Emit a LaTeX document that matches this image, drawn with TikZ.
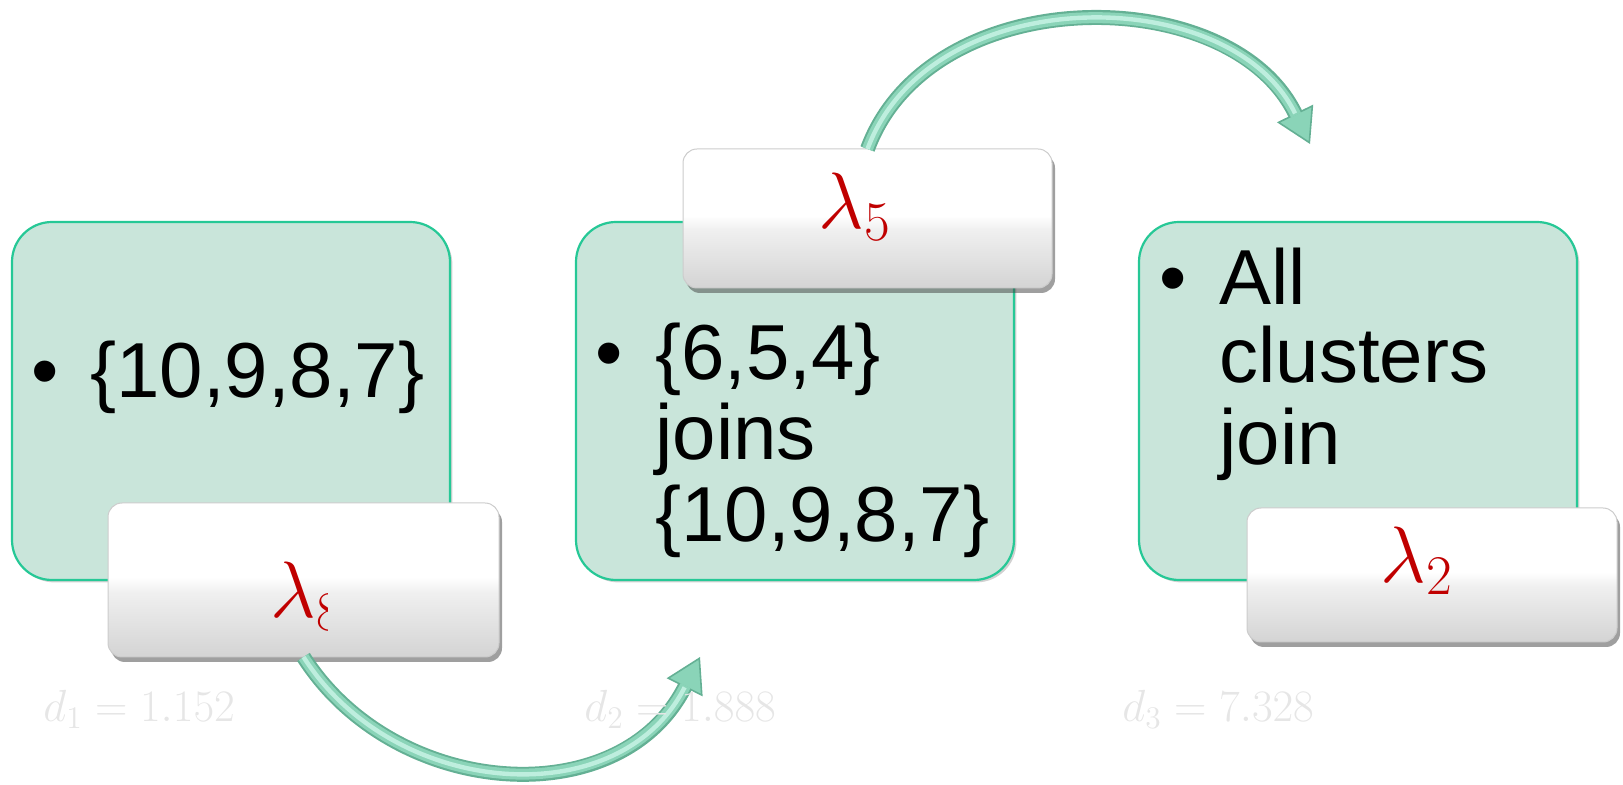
\documentclass[tikz,border=0pt]{standalone}
\usepackage{fix-cm}
\usepackage{fontspec}
\newfontfamily\arialfont{Liberation Sans}
\usetikzlibrary{arrows.meta,shadows}

\definecolor{boxfill}{RGB}{201,229,218}
\definecolor{boxedge}{RGB}{38,200,150}
\definecolor{lamred}{RGB}{192,0,0}
\definecolor{tubedark}{RGB}{100,176,148}
\definecolor{tubemid}{RGB}{138,212,184}
\definecolor{tubelight}{RGB}{190,238,222}
\definecolor{faint}{RGB}{230,230,230}

% white top half, soft grey toward the bottom
\pgfdeclareverticalshading{lamshade}{100bp}{color(0bp)=(black!17); color(25bp)=(black!17); color(46bp)=(black!6); color(51bp)=(white); color(75bp)=(white); color(100bp)=(white)}

\tikzset{
  grpbox/.style={draw=boxedge, line width=1.1pt, fill=boxfill, rounded corners=20pt,
    minimum width=219pt, minimum height=179pt, inner sep=0pt, outer sep=0pt,
    drop shadow={shadow xshift=1.2pt, shadow yshift=-1.2pt, opacity=0.18, fill=black}},
  lambox/.style={draw=black!20, line width=0.5pt, shade, shading=lamshade, rounded corners=7pt,
    inner sep=0pt, outer sep=0pt,
    drop shadow={shadow xshift=1.5pt, shadow yshift=-2.5pt, opacity=0.5, fill=black!75}},
  body/.style={font={\arialfont\fontsize{39}{40}\selectfont}, inner sep=0pt, anchor=base west},
  bul/.style={font={\arialfont\fontsize{39}{40}\selectfont}, inner sep=0pt, anchor=base},
  lam/.style={text=lamred, font={\fontsize{40}{44}\selectfont}, inner sep=0pt, anchor=base west},
  dist/.style={text=faint, font={\fontsize{22.5}{26}\selectfont}, inner sep=0pt, anchor=base west},
  tubeedge/.style={line width=7.5pt, draw=tubedark,
    -{Triangle[width=20pt,length=17pt,line width=0.8pt,fill=tubemid]}},
  tubebody/.style={line width=5.5pt, draw=tubemid, shorten >=16pt},
  tubeglint/.style={line width=2.2pt, draw=tubelight, shorten >=17pt},
}

\begin{document}
\begin{tikzpicture}[x=0.5pt, y=-0.5pt]
\useasboundingbox (0,0) rectangle (1623,785);

% cluster boxes
\node[grpbox] (g1) at (231,401) {};
\node[grpbox] (g2) at (795,401) {};
\node[grpbox] (g3) at (1358,401) {};

% box texts
\node[bul]  (b1)  at (45,398) {•};
\node[body] (t1a) at (90,398) {\{10,9,8,7\}};

\node[bul]  (b2)  at (609,380) {•};
\node[body] (t2a) at (655,380) {\{6,5,4\}};
\node[body] (t2b) at (655,460) {joins};
\node[body] (t2c) at (655,542) {\{10,9,8,7\}};

\node[bul]  (b3)  at (1173,305) {•};
\node[body] (t3a) at (1219,305) {All};
\node[body] (t3b) at (1219,383) {clusters};
\node[body] (t3c) at (1219,465) {join};

% threshold boxes
\node[lambox, minimum width=195.5pt, minimum height=77pt] (lam8) at (303.5,580) {};
\node[lambox, minimum width=184.5pt, minimum height=69.5pt] (lam5) at (867.5,218.5) {};
\node[lambox, minimum width=185pt, minimum height=67pt] (lam2) at (1432,575) {};

\begin{scope}
  \clip (lam8.north west) rectangle (327,657);
  \node[lam] (l8) at (270,618) {$\lambda_8$};
\end{scope}
\node[lam] (l5) at (818,229) {$\lambda_5$};
\node[lam] (l2) at (1380,583) {$\lambda_2$};

% curved tube arrows
\coordinate (tip1) at (700,657);
\coordinate (tip2) at (1310,144);
\foreach \s in {tubeedge,tubebody,tubeglint}
  \draw[\s] (lam8.south) .. controls (395,800) and (620,815) .. (tip1);
\foreach \s in {tubeedge,tubebody,tubeglint}
  \draw[\s] (lam5.north) .. controls (930,-20) and (1230,-20) .. (tip2);

% distances
\node[dist] (d1) at (43,722) {$d_1 = 1.152$};
\node[dist] (d2) at (584,722) {$d_2 = 1.888$};
\node[dist] (d3) at (1122,722) {$d_3 = 7.328$};
\end{tikzpicture}
\end{document}
